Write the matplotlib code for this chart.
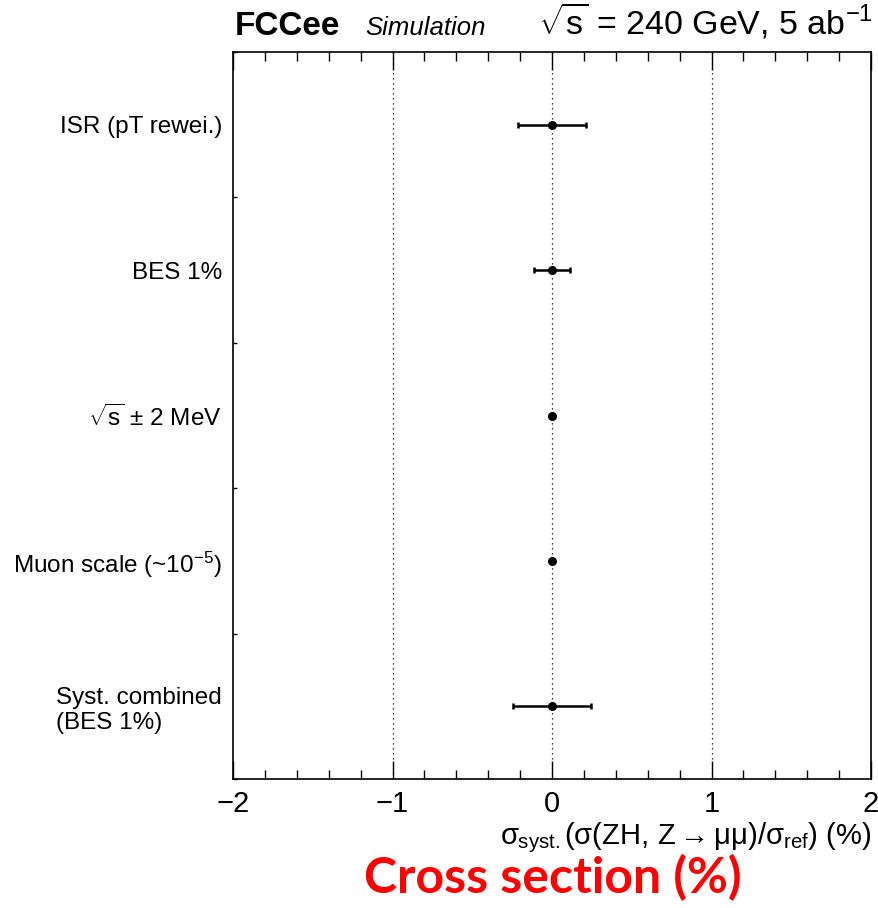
import numpy as np
import matplotlib
matplotlib.use("Agg")
import matplotlib.pyplot as plt
from matplotlib.ticker import MultipleLocator, FixedLocator, NullFormatter

plt.rcParams['font.family'] = ['Liberation Sans', 'DejaVu Sans']
plt.rcParams['mathtext.fontset'] = 'custom'
plt.rcParams['mathtext.rm'] = 'Liberation Sans'
plt.rcParams['mathtext.it'] = 'Liberation Sans'
plt.rcParams['mathtext.bf'] = 'Liberation Sans:bold'

# systematic sources, top to bottom
labels = ["ISR (pT rewei.)", "BES 1%", r"$\sqrt{s}$ $\pm$ 2 MeV",
          r"Muon scale (~10$^{-5}$)", "Syst. combined\n(BES 1%)"]
shifts = [0.0, 0.0, 0.0, 0.0, 0.0]
errors = [0.214, 0.115, 0.0, 0.0, 0.244]

fig = plt.figure(figsize=(8.79, 9.08), dpi=100)
ax = fig.add_axes([0.2651, 0.1421, 0.7258, 0.8006])

ypos = np.arange(len(labels))[::-1]
ax.errorbar(shifts, ypos, xerr=errors, fmt='o', color='black', ms=5.5,
            elinewidth=1.8, capsize=2.5, capthick=1.8)

for xv in (-1, 0, 1):
    ax.axvline(xv, color='black', lw=0.9, ls=(0, (1, 3)), zorder=0)

ax.set_xlim(-2, 2)
ax.set_ylim(-0.5, len(labels) - 0.5)

ax.xaxis.set_major_locator(MultipleLocator(1))
ax.xaxis.set_minor_locator(MultipleLocator(0.2))
ax.tick_params(axis='x', which='both', direction='in', top=True,
               labelsize=21, pad=8)
ax.tick_params(axis='x', which='major', length=13, width=1)
ax.tick_params(axis='x', which='minor', length=6.5, width=1)

ax.set_yticks(ypos)
ax.set_yticklabels(labels, fontsize=17.5)
ax.yaxis.set_minor_locator(FixedLocator(np.arange(-0.5, len(labels), 1.0)))
ax.yaxis.set_minor_formatter(NullFormatter())
ax.tick_params(axis='y', which='major', length=0, pad=8)
ax.tick_params(axis='y', which='minor', direction='in', length=3, width=1)
for lbl in ax.get_yticklabels():
    if "\n" in lbl.get_text():
        lbl.set_multialignment('left')

for sp in ax.spines.values():
    sp.set_linewidth(1.2)

ax.set_xlabel(r"$\sigma_{\mathrm{syst.}}(\sigma(\mathrm{ZH,\,Z}\rightarrow\mu\mu)/\sigma_{\mathrm{ref}})$ (%)",
              fontsize=21, loc='right', labelpad=2)

fig.text(0.267, 0.962, "FCCee", fontsize=24, fontweight='bold', va='baseline')
fig.text(0.415, 0.962, "Simulation", fontsize=18.5, style='italic', va='baseline')
fig.text(0.993, 0.962, r"$\sqrt{\mathrm{s}}$ = 240 GeV, 5 ab$^{-1}$", fontsize=24.5,
         ha='right', va='baseline')

fig.text(0.629, 0.016, "Cross section (%)", fontsize=36, fontweight='bold',
         color='#ff0000', family=['Lato', 'DejaVu Sans'], ha='center',
         va='baseline')

fig.savefig("out.png", dpi=100)
